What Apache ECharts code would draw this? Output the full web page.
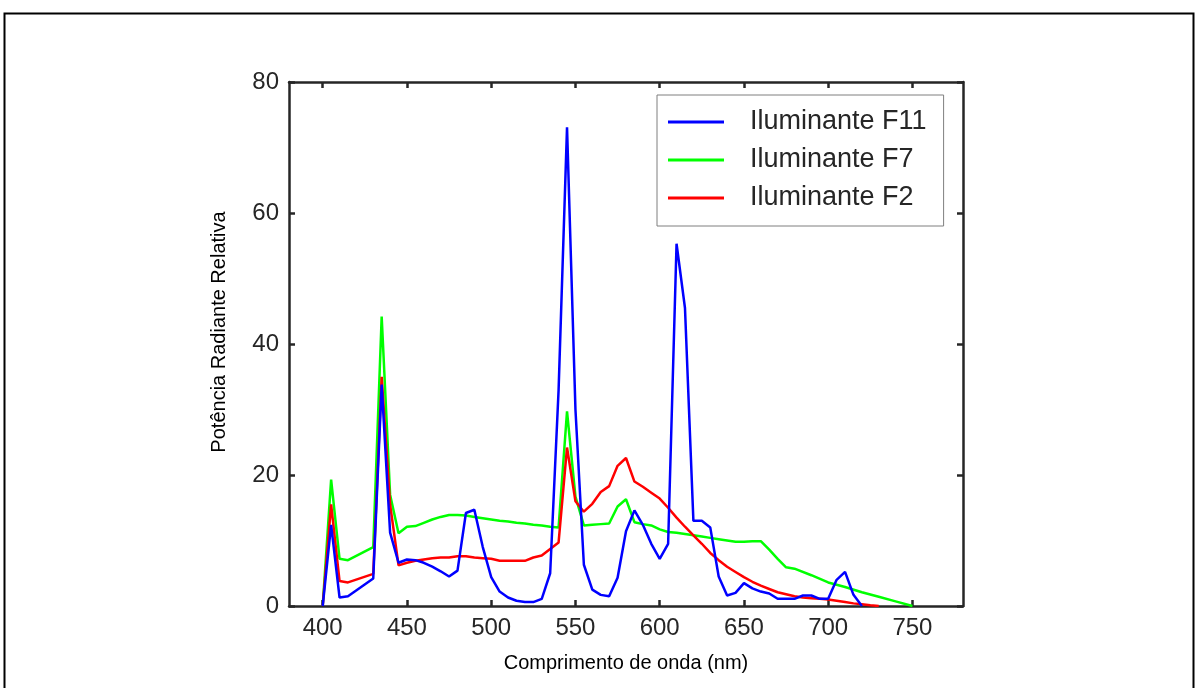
<!DOCTYPE html>
<html>
<head>
<meta charset="utf-8">
<script src="https://cdn.jsdelivr.net/npm/echarts@6/dist/echarts.min.js"></script>
<style>html,body{margin:0;padding:0;background:#fff;}#c{width:1195px;height:688px;}</style>
</head>
<body>
<div id="c"></div>
<script>
// Data: [wavelength nm, relative power]
const seriesNames = ['Iluminante F11', 'Iluminante F7', 'Iluminante F2'];
const xTicks = [400, 450, 500, 550, 600, 650, 700, 750];
const yTicks = [0, 20, 40, 60, 80];

const f11 = [[400,0],[405,12.4],[410,1.3],[415,1.5],[430,4.2],[435,33.8],[440,11.2],[445,6.6],[450,7.1],[455,7.0],[460,6.6],[465,6.0],[470,5.3],[475,4.5],[480,5.4],[485,14.2],[490,14.7],[495,9.0],[500,4.4],[505,2.2],[510,1.3],[515,0.8],[520,0.6],[525,0.6],[530,1.1],[535,5.0],[540,33.0],[545,73.1],[550,30.0],[555,6.3],[560,2.5],[565,1.7],[570,1.5],[575,4.3],[580,11.4],[585,14.6],[590,12.4],[595,9.5],[600,7.2],[605,9.5],[610,55.3],[615,45.5],[620,13.0],[625,13.0],[630,12.0],[635,4.5],[640,1.6],[645,2.0],[650,3.5],[655,2.7],[660,2.2],[665,1.9],[670,1.1],[675,1.1],[680,1.1],[685,1.6],[690,1.6],[695,1.1],[700,1.1],[705,4.0],[710,5.2],[715,1.7],[720,0]];

const f7 = [[400,0],[405,19.3],[410,7.2],[415,7.0],[430,9.0],[435,44.2],[440,17.0],[445,11.1],[450,12.1],[455,12.2],[460,12.7],[465,13.2],[470,13.6],[475,13.9],[480,13.9],[485,13.8],[490,13.6],[495,13.4],[500,13.2],[505,13.0],[510,12.9],[515,12.7],[520,12.6],[525,12.4],[530,12.3],[535,12.1],[540,12.0],[545,29.7],[550,16.7],[555,12.3],[560,12.4],[565,12.5],[570,12.6],[575,15.2],[580,16.3],[585,12.8],[590,12.5],[595,12.3],[600,11.7],[605,11.3],[610,11.2],[615,11.0],[620,10.8],[625,10.6],[630,10.4],[635,10.2],[640,10.0],[645,9.8],[650,9.8],[655,9.9],[660,9.9],[665,8.6],[670,7.2],[675,5.9],[680,5.7],[690,4.7],[700,3.6],[710,2.9],[720,2.1],[730,1.4],[740,0.7],[750,0]];

const f2 = [[400,0],[405,15.5],[410,3.8],[415,3.6],[430,4.9],[435,35.0],[440,15.5],[445,6.2],[450,6.6],[455,6.9],[460,7.1],[465,7.3],[470,7.4],[475,7.4],[480,7.6],[485,7.6],[490,7.4],[495,7.3],[500,7.2],[505,6.9],[510,6.9],[515,6.9],[520,6.9],[525,7.4],[530,7.7],[535,8.7],[540,9.7],[545,24.2],[550,16.0],[555,14.4],[560,15.6],[565,17.4],[570,18.3],[575,21.4],[580,22.6],[585,19.0],[590,18.2],[595,17.3],[600,16.4],[605,15.0],[610,13.5],[615,12.1],[620,10.8],[625,9.5],[630,8.1],[635,7.0],[640,6.0],[645,5.2],[650,4.4],[655,3.7],[660,3.1],[665,2.6],[670,2.1],[675,1.8],[680,1.5],[685,1.3],[690,1.2],[695,1.1],[700,1.0],[705,0.8],[710,0.6],[715,0.4],[720,0.25],[725,0.1],[730,0]];

const axisColor = '#262626';
const font = 'Liberation Sans, Arial, Helvetica, sans-serif';
const chart = echarts.init(document.getElementById('c'), null, {renderer: 'canvas'});

function xAx(pos, labels) {
  return {
    type: 'value', position: pos, min: 380, max: 780,
    axisLine: {show: true, onZero: false, lineStyle: {color: axisColor, width: 2.5}},
    axisTick: {show: true, inside: true, length: 6, customValues: xTicks, lineStyle: {color: axisColor, width: 2.5}},
    axisLabel: {show: labels, customValues: xTicks, margin: 10, color: axisColor, fontSize: 24, fontFamily: font},
    splitLine: {show: false},
    name: labels ? 'Comprimento de onda (nm)' : '', nameLocation: 'middle', nameGap: 47,
    nameTextStyle: {color: '#000', fontSize: 20, fontFamily: font}
  };
}
function yAx(pos, labels) {
  return {
    type: 'value', position: pos, min: 0, max: 80, interval: 20,
    axisLine: {show: true, onZero: false, lineStyle: {color: axisColor, width: 2.5}},
    axisTick: {show: true, inside: true, length: 6, lineStyle: {color: axisColor, width: 2.5}},
    axisLabel: {show: labels, margin: 10, color: axisColor, fontSize: 24, fontFamily: font, padding: [4, 0, 0, 0]},
    splitLine: {show: false},
    name: labels ? 'Potência Radiante Relativa' : '', nameLocation: 'middle', nameGap: 60,
    nameTextStyle: {color: '#000', fontSize: 20, fontFamily: font, padding: [0, 0, 0, 24]}
  };
}

chart.setOption({
  animation: false,
  backgroundColor: '#fff',
  grid: {left: 289, right: 232, top: 82, bottom: 82, containLabel: false},
  xAxis: [xAx('bottom', true), xAx('top', false)],
  yAxis: [yAx('left', true), yAx('right', false)],
  legend: {
    data: seriesNames,
    orient: 'vertical', left: 657, top: 95,
    backgroundColor: '#fff', borderColor: '#7f7f7f', borderWidth: 1, borderRadius: 0,
    padding: [12, 17, 13, 11],
    icon: 'rect', itemWidth: 56, itemHeight: 3, itemGap: 8,
    textStyle: {color: axisColor, fontSize: 27, fontFamily: font, lineHeight: 30, padding: [0, 0, 0, 21]}
  },
  graphic: [{
    type: 'rect', left: 2, top: 11, silent: true,
    shape: {x: 0, y: 0, width: 1189, height: 800},
    style: {fill: 'none', stroke: '#000', lineWidth: 2}
  }],
  series: [
    {name: 'Iluminante F7', type: 'line', data: f7, showSymbol: false, symbol: 'none', lineStyle: {color: '#00ff00', width: 2.5}, itemStyle: {color: '#00ff00'}},
    {name: 'Iluminante F2', type: 'line', data: f2, showSymbol: false, symbol: 'none', lineStyle: {color: '#ff0000', width: 2.5}, itemStyle: {color: '#ff0000'}},
    {name: 'Iluminante F11', type: 'line', data: f11, showSymbol: false, symbol: 'none', lineStyle: {color: '#0000ff', width: 2.5}, itemStyle: {color: '#0000ff'}}
  ]
});
</script>
</body>
</html>
